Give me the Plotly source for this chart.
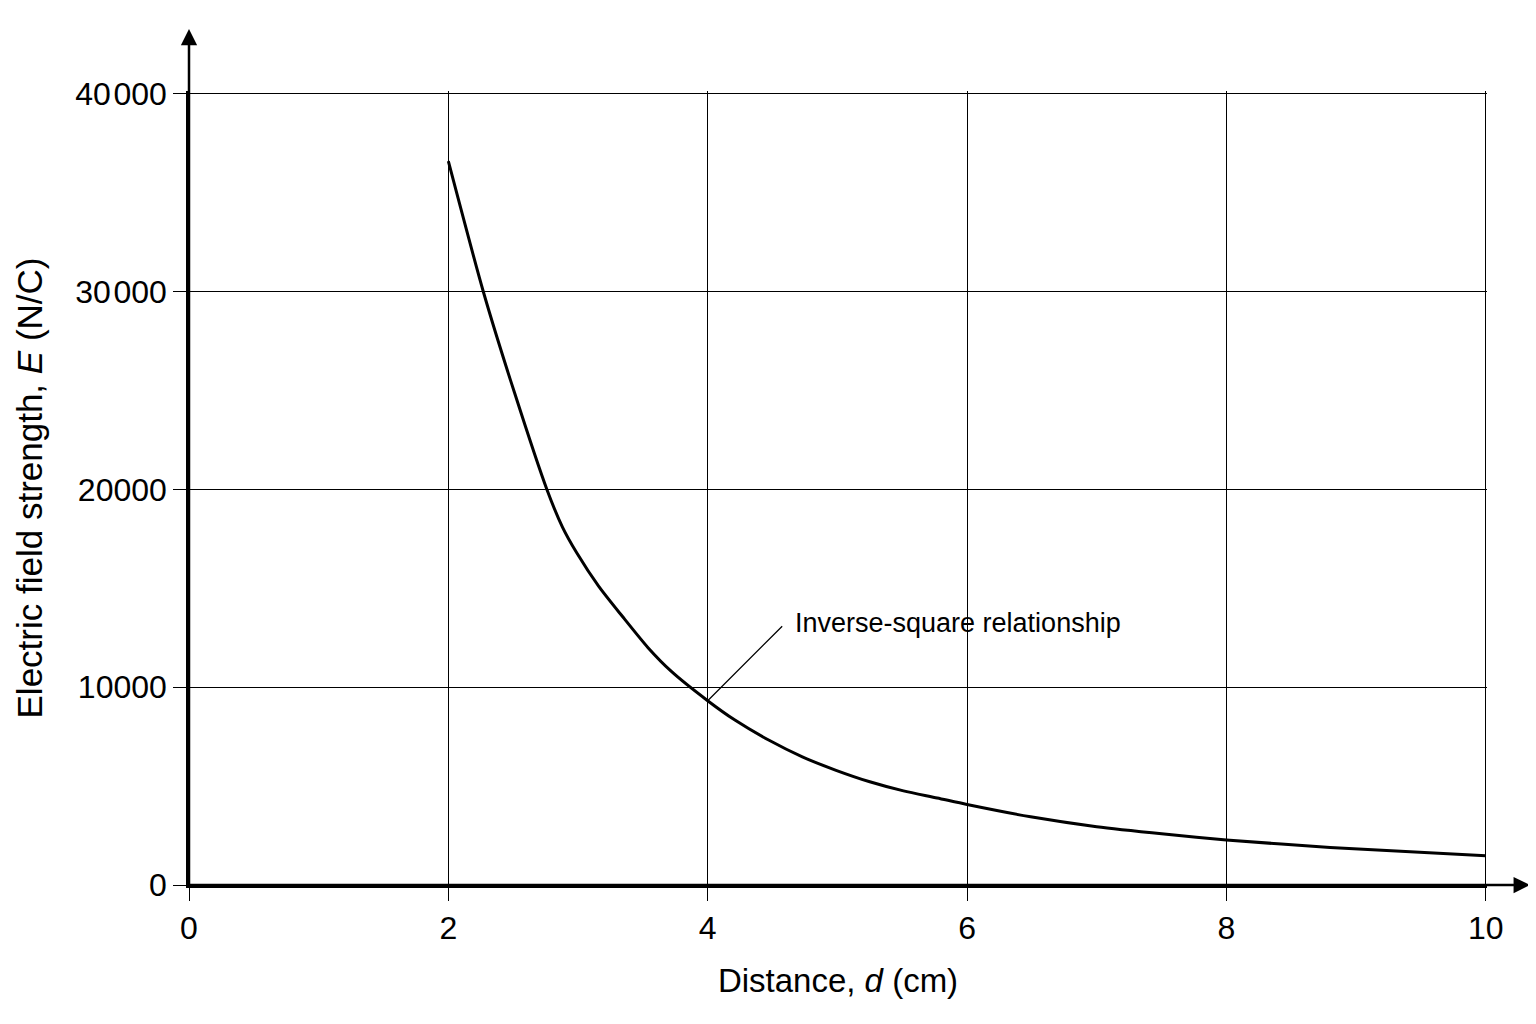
import plotly.graph_objects as go

# values
distance_cm = [2.0, 2.27, 2.51, 2.76, 2.88, 2.99, 3.16, 3.34, 3.54, 3.72, 4.0, 4.21, 4.47,
               4.73, 4.99, 5.25, 5.51, 5.77, 6.0, 6.49, 7.0, 7.52, 8.0, 8.8, 10.0]
field_NC = [36600, 30000, 24900, 20000, 18100, 16800, 15100, 13600, 12000, 10800, 9320, 8340, 7330,
            6480, 5800, 5220, 4760, 4400, 4070, 3450, 2950, 2580, 2280, 1900, 1480]

x_ticks = [0, 2, 4, 6, 8, 10]
y_ticks = [0, 10000, 20000, 30000, 40000]
y_ticktext = ["0", "10000", "20000", "30\u200a000", "40\u200a000"]

label_text = "Inverse-square relationship"
label_idx = distance_cm.index(4.0)  # leader line touches the curve at d = 4

FONT = "Liberation Sans, Arial, sans-serif"

fig = go.Figure()
fig.add_trace(go.Scatter(
    x=distance_cm, y=field_NC, mode="lines",
    line=dict(color="black", width=3, shape="spline", smoothing=0.7),
    showlegend=False, hoverinfo="skip",
))

axis_common = dict(
    showgrid=True, gridcolor="black", gridwidth=1.3,
    zeroline=False, showline=True, linecolor="black", linewidth=2.5,
    ticks="outside", ticklen=13, tickwidth=1.3, tickcolor="black",
    tickfont=dict(family=FONT, size=32, color="black"),
    automargin=False,
)

fig.update_xaxes(
    range=[0, 10.01], tickvals=x_ticks,
    title=dict(text="Distance, <i>d</i> (cm)", font=dict(family=FONT, size=33, color="black"), standoff=24),
    **axis_common,
)
fig.update_yaxes(
    range=[0, 40150], tickvals=y_ticks, ticktext=y_ticktext,
    title=dict(text="Electric field strength, <i>E</i> (N/C)", font=dict(family=FONT, size=35, color="black"), standoff=22),
    **axis_common,
)

# axis arrows extending past the grid
fig.add_annotation(x=0, y=1.078, xref="paper", yref="paper", ax=0, ay=860,
                   showarrow=True, arrowhead=2, arrowsize=1.3, arrowwidth=2.5,
                   arrowcolor="black", text="")
fig.add_annotation(x=1.033, y=0, xref="paper", yref="paper", ax=-1345, ay=0,
                   showarrow=True, arrowhead=2, arrowsize=1.3, arrowwidth=2.5,
                   arrowcolor="black", text="")

# leader line + label
fig.add_annotation(x=distance_cm[label_idx], y=field_NC[label_idx], ax=76, ay=-76,
                   showarrow=True, arrowhead=0, arrowwidth=1.3, arrowcolor="black",
                   text="", standoff=0, startstandoff=0)
fig.add_annotation(x=distance_cm[label_idx], y=field_NC[label_idx], text=label_text,
                   showarrow=False, xanchor="left", yanchor="middle", xshift=85, yshift=78,
                   font=dict(family=FONT, size=27, color="black"))

fig.update_layout(
    width=1536, height=1024,
    margin=dict(l=181, r=57, t=83, b=147),
    paper_bgcolor="white", plot_bgcolor="white",
)

fig.write_html("out.html")
